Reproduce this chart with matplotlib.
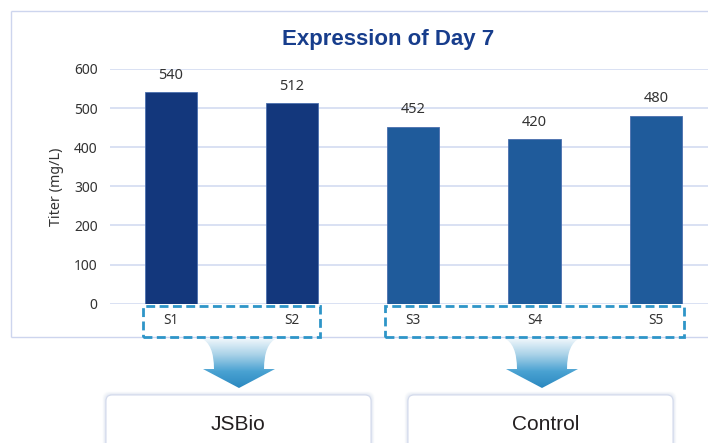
import matplotlib

matplotlib.use("Agg")
import matplotlib.pyplot as plt
import numpy as np
from matplotlib.patches import FancyBboxPatch, PathPatch, Rectangle
from matplotlib.path import Path
from matplotlib.transforms import blended_transform_factory

# data
samples = ["S1", "S2", "S3", "S4", "S5"]
titer = [540, 512, 452, 420, 480]
groups = ["JSBio", "JSBio", "Control", "Control", "Control"]
group_names = ["JSBio", "Control"]
group_colors = {"JSBio": "#13377c", "Control": "#1f5b9b"}
y_ticks = [0, 100, 200, 300, 400, 500, 600]

W, H = 708, 443
fig = plt.figure(figsize=(W / 100, H / 100), dpi=100, facecolor="#ffffff")

text_dark = "#333333"
grid = "#d0d9f0"
frame = "#cdd5ee"
dash_blue = "#2e95c8"

# background overlay in pixel coordinates
bg = fig.add_axes([0, 0, 1, 1], zorder=0)
bg.axis("off")
# open frame: top, left, bottom (runs to the right edge)
bg.hlines([11, 337], 11, W, colors=frame, linewidth=1.0)
bg.vlines(11, 11, 337, colors=frame, linewidth=1.0)

ax = fig.add_axes([110 / W, (H - 303.7) / H, 606.5 / W, 234.7 / H], zorder=1)
ax.set_facecolor("none")

x = np.arange(len(samples))
colors = [group_colors[g] for g in groups]
ax.bar(x, titer, width=0.43, color=colors, edgecolor="#4a6fae", linewidth=0.6, zorder=3)
for xi, v in zip(x, titer):
    ax.annotate(str(v), (xi, v), xytext=(0, 12.5), textcoords="offset points",
                ha="center", va="center", fontsize=10.5, color=text_dark,
                family="Noto Sans")

ax.set_xlim(-0.5, len(samples) - 0.5)
ax.set_ylim(0, 600)
ax.set_yticks(y_ticks)
ax.set_yticklabels([str(t) for t in y_ticks], fontsize=10, color=text_dark, family="Noto Sans")
ax.set_xticks(x)
ax.set_xticklabels(samples, fontsize=9.8, color=text_dark, family="Noto Sans")
ax.tick_params(axis="y", length=0, pad=9)
ax.tick_params(axis="x", length=0, pad=7)
ax.grid(axis="y", color=grid, linewidth=1.1, zorder=0)
ax.set_axisbelow(True)
for s in ax.spines.values():
    s.set_visible(False)
ax.set_ylabel("Titer (mg/L)", fontsize=10.3, color=text_dark, family="Noto Sans", labelpad=7)

fig.text(388 / W, 1 - 40 / H, "Expression of Day 7", ha="center", va="center",
         fontsize=16, fontweight="bold", color="#173d8c", family="Liberation Sans")

# dashed group boxes under the tick labels
trans = blended_transform_factory(ax.transData, ax.transAxes)
for name in group_names:
    idx = [i for i, g in enumerate(groups) if g == name]
    x0, x1 = min(idx) - 0.23, max(idx) + 0.23
    ax.add_patch(Rectangle((x0, -0.142), x1 - x0, 0.132, transform=trans, fill=False,
                           edgecolor=dash_blue, linewidth=2.0, linestyle=(0, (3.2, 1.6)),
                           clip_on=False, zorder=5))

# gradient arrows
grad = np.linspace(0, 1, 256).reshape(-1, 1)
cmap = matplotlib.colors.LinearSegmentedColormap.from_list(
    "arr", ["#f2f8fc", "#a9d2e8", "#4aa2d2", "#2a88c0"])
for cx in (239, 542):
    verts = [
        (cx - 38, 338), (cx + 38, 338),
        (cx + 25, 344), (cx + 25, 369),
        (cx + 36, 369), (cx, 388), (cx - 36, 369), (cx - 25, 369),
        (cx - 25, 344), (cx - 38, 338),
        (cx - 38, 338),
    ]
    codes = [Path.MOVETO, Path.LINETO,
             Path.CURVE3, Path.CURVE3,
             Path.LINETO, Path.LINETO, Path.LINETO, Path.LINETO,
             Path.CURVE3, Path.CURVE3,
             Path.CLOSEPOLY]
    patch = PathPatch(Path(verts, codes), facecolor="none", edgecolor="none")
    bg.add_patch(patch)
    im = bg.imshow(grad, extent=(cx - 40, cx + 40, 388, 338), cmap=cmap,
                   aspect="auto", origin="upper", zorder=2)
    im.set_clip_path(patch)

# bottom group boxes with soft shadow
box_specs = [(106, 371, "JSBio", 238), (408, 673, "Control", 546)]
for x0, x1, label, tx in box_specs:
    for k, a in zip(range(6, 0, -1), [0.03, 0.04, 0.05, 0.06, 0.08, 0.1]):
        bg.add_patch(FancyBboxPatch((x0 - k * 0.6, 395 - k * 0.6), x1 - x0 + k * 1.2, 80,
                                    boxstyle="round,pad=0,rounding_size=7",
                                    facecolor="#9fb0d8", edgecolor="none", alpha=a, zorder=3))
    bg.add_patch(FancyBboxPatch((x0, 395), x1 - x0, 80,
                                boxstyle="round,pad=0,rounding_size=6",
                                facecolor="#ffffff", edgecolor="#d4dbec", linewidth=0.8, zorder=4))
    bg.text(tx, 424, label, ha="center", va="center", fontsize=15, color="#231f20",
            family="Liberation Sans", zorder=5)

bg.set_xlim(0, W)
bg.set_ylim(H, 0)

fig.savefig("out.png", dpi=100, facecolor=fig.get_facecolor())
